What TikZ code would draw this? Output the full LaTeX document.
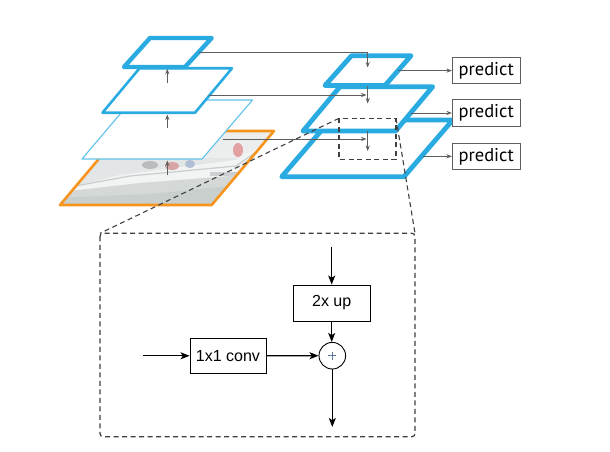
\documentclass[tikz,border=0pt]{standalone}
\usepackage{fontspec}
\setmainfont{Liberation Sans}
\newfontfamily\pfont{PT Sans}
\usetikzlibrary{arrows.meta}
\definecolor{fpnblue}{HTML}{29ABE2}
\definecolor{lightblue}{HTML}{5EC2EC}
\definecolor{fpnorange}{HTML}{F7941D}
\definecolor{arrgray}{HTML}{5E5E5E}
\definecolor{dashgray}{HTML}{404040}
\definecolor{plusblue}{HTML}{5F779E}
\definecolor{imgbase}{RGB}{227,230,230}
\definecolor{imgsky}{RGB}{236,238,238}
\definecolor{imghull}{RGB}{242,243,243}
\definecolor{imghullline}{RGB}{200,205,205}
\definecolor{imghullshade}{RGB}{212,217,216}
\definecolor{imgwater}{RGB}{200,207,205}
\definecolor{imgred}{RGB}{226,160,160}
\definecolor{imgred2}{RGB}{214,165,165}
\definecolor{imgblue}{RGB}{176,190,214}
\definecolor{imggray}{RGB}{185,188,190}
\definecolor{imggray2}{RGB}{205,208,210}
\tikzset{
  layer/.style={fill=white, draw=fpnblue, line join=round},
  garr/.style={draw=arrgray, line width=0.9pt, -{Stealth[length=5.5pt,width=4.2pt]}},
  barr/.style={draw=black, line width=1.2pt, -{Stealth[length=9pt,width=7pt,inset=2.2pt]}},
  pbox/.style={draw=arrgray, line width=0.9pt, fill=white, minimum width=67.7pt, minimum height=26.5pt, inner sep=0pt, font=\pfont\fontsize{18.5}{20}\selectfont},
  opbox/.style={draw=black, line width=0.9pt, fill=white, inner sep=0pt, font=\fontsize{16}{18}\selectfont},
  dashrect/.style={draw=dashgray, line width=1.2pt, dash pattern=on 5pt off 3.5pt},
}
\begin{document}
\begin{tikzpicture}[x=1pt,y=-1pt]
\useasboundingbox (0,0) rectangle (610,452);
\fill[white] (0,0) rectangle (610,452);

% ---------- image plane (faded photo) ----------
\begin{scope}
  \clip (122.3,131) -- (274,131) -- (211.7,205) -- (60,205) -- cycle;
  \fill[imgbase] (50,125) rectangle (280,210);
  \fill[imgsky] (50,125) rectangle (280,158);
  \fill[imghull] (60,190) -- (120,175) -- (235,160) -- (272,140) -- (272,170) -- (200,185) -- (60,200) -- cycle;
  \draw[imghullline, line width=1.2pt] (70,187) -- (130,176) -- (236,166) -- (265,146);
  \fill[imghullshade] (60,192) -- (140,183) -- (230,176) -- (272,160) -- (272,210) -- (60,210) -- cycle;
  \fill[imgwater] (50,198) -- (150,194) -- (230,186) -- (280,180) -- (280,210) -- (50,210) -- cycle;
  \fill[imgred] (238,150) ellipse (5pt and 7pt);
  \fill[imgred2] (172,166) ellipse (7pt and 4pt);
  \fill[imgblue] (190,164) ellipse (5pt and 4pt);
  \fill[imggray] (150,165) ellipse (8pt and 4pt);
  \fill[imggray2] (210,172) rectangle (240,176);
\end{scope}
\draw[draw=fpnorange, line width=2.6pt, line join=round] (122.3,131) -- (274,131) -- (211.7,205) -- (60,205) -- cycle;

% ---------- bottom-up pyramid ----------
\draw[layer, draw=lightblue, line width=1.1pt] (132,100) -- (252.5,100) -- (202,159) -- (82,159) -- cycle;
\draw[layer, line width=2.6pt] (139.5,68.3) -- (232,68.3) -- (195,112.7) -- (102.5,112.7) -- cycle;
\draw[layer, line width=4.4pt] (150,38) -- (211.7,38) -- (185,67) -- (124,67) -- cycle;

\coordinate (u1a) at (167.3,82.7);  \coordinate (u1b) at (167.3,68.8);
\coordinate (u2a) at (167.3,128.3); \coordinate (u2b) at (167.3,114.5);
\coordinate (u3a) at (167.3,175);   \coordinate (u3b) at (167.3,160.5);
\draw[garr] (u1a) -- (u1b);
\draw[garr] (u2a) -- (u2b);
\draw[garr] (u3a) -- (u3b);

% ---------- top-down pyramid ----------
\draw[layer, line width=4.8pt] (330.4,120) -- (452.7,120) -- (404,176.7) -- (281.7,176.7) -- cycle;
\draw[layer, line width=4.8pt] (340,86.7) -- (432.7,86.7) -- (395.5,131) -- (303,131) -- cycle;
\draw[layer, line width=4.8pt] (351.5,55.7) -- (411,55.7) -- (385,85.5) -- (325,85.5) -- cycle;

% lateral connections
\coordinate (l1s) at (199,52.5);  \coordinate (l1c) at (367.7,52.5); \coordinate (l1e) at (367.7,67.5);
\coordinate (l2s) at (209,95);    \coordinate (l2e) at (366.5,95);
\coordinate (l3s) at (222.5,139); \coordinate (l3e) at (366.5,139);
\coordinate (d2s) at (367.7,86);  \coordinate (d2e) at (367.7,103.5);
\coordinate (d3s) at (367.7,131); \coordinate (d3e) at (367.7,151);
\draw[garr] (l1s) -- (l1c) -- (l1e);
\draw[garr] (l2s) -- (l2e);
\draw[garr] (l3s) -- (l3e);
\draw[garr] (d2s) -- (d2e);
\draw[garr] (d3s) -- (d3e);

% predictions
\node[pbox] (p1) at (486.2,70.6) {predict};
\node[pbox] (p2) at (486.2,113) {predict};
\node[pbox] (p3) at (486.2,156.3) {predict};
\coordinate (r1) at (398,70.6);
\coordinate (r2) at (410.5,113);
\coordinate (r3) at (422.8,156.3);
\draw[garr] (r1) -- (p1.west);
\draw[garr] (r2) -- (p2.west);
\draw[garr] (r3) -- (p3.west);

% ---------- zoom detail ----------
\draw[dashrect, line width=1.1pt] (339,118.3) rectangle (396,159.5);
\coordinate (zl) at (339,118.3);
\coordinate (zr) at (396,118.3);
\coordinate (bl) at (100,233.3);
\coordinate (br) at (415,233.3);
\draw[dashrect, line width=1.1pt] (zl) -- (bl);
\draw[dashrect, line width=1.1pt] (zr) -- (br);
\draw[dashrect, rounded corners=3pt] (100,233.3) rectangle (415,436.7);

\node[opbox, minimum width=76.7pt, minimum height=36pt] (up) at (331.7,303) {2x up};
\node[opbox, minimum width=76pt, minimum height=35pt] (conv) at (228,355.8) {1x1 conv};
\node[draw=black, line width=0.9pt, circle, minimum size=26.6pt, inner sep=0pt, fill=white] (sum) at (332.3,355.7) {};
\draw[plusblue, line width=0.9pt] ([xshift=-4pt]sum.center) -- ([xshift=4pt]sum.center);
\draw[plusblue, line width=0.9pt] ([yshift=-4pt]sum.center) -- ([yshift=4pt]sum.center);

\coordinate (topin) at (331.7,246.7);
\coordinate (leftin) at (142.7,355.8);
\coordinate (out) at (332.3,427);
\draw[barr] (topin) -- (up);
\draw[barr] (up) -- (up.south |- sum.north);
\draw[barr] (leftin) -- (conv);
\draw[barr] (conv) -- (sum);
\draw[barr] (sum) -- (out);
\end{tikzpicture}
\end{document}
